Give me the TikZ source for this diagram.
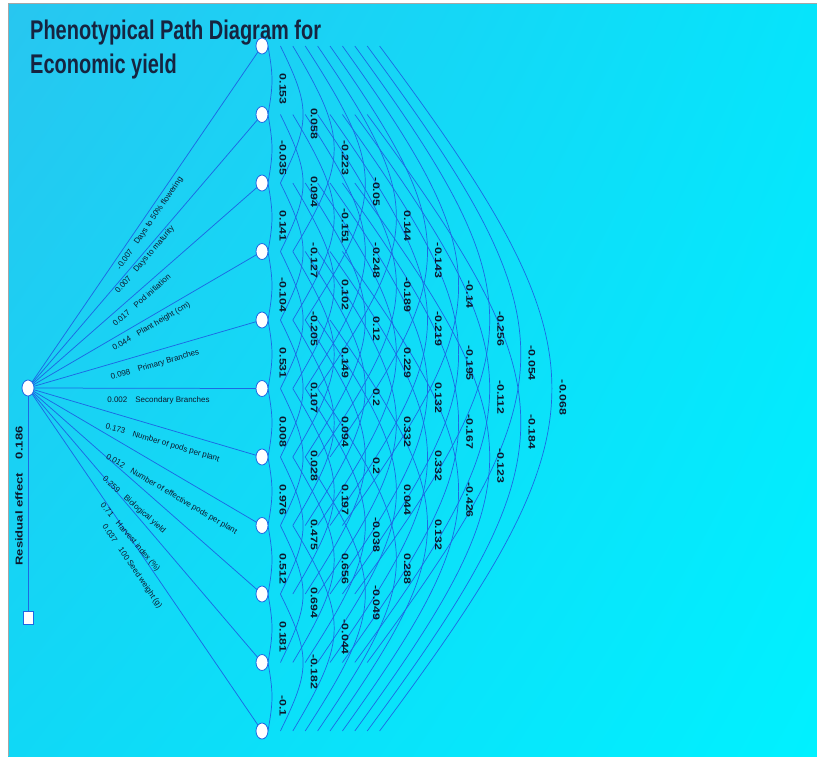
\documentclass[tikz,border=0pt]{standalone}
\usepackage{fontspec}
\setmainfont{Liberation Sans}
\newfontfamily\titlefont[FakeStretch=0.74]{Liberation Sans}
\newfontfamily\arclabfont[FakeStretch=1.3]{Liberation Sans}
\usetikzlibrary{shapes.geometric,calc,shadings}
\definecolor{linkblue}{RGB}{28,105,228}
\definecolor{inkdark}{RGB}{12,24,45}
\definecolor{titleink}{RGB}{22,36,64}
\definecolor{bgA}{RGB}{40,198,240}
\definecolor{bgB}{RGB}{6,228,251}
\definecolor{bgC}{RGB}{16,216,246}
\definecolor{bgD}{RGB}{0,241,255}
\pgfdeclarelayer{bglayer}
\pgfdeclarelayer{edgelayer}
\pgfsetlayers{bglayer,edgelayer,main}
\begin{document}
\begin{tikzpicture}[x=1pt,y=-1pt,
  varnode/.style={ellipse, draw=linkblue, line width=0.8pt, fill=white, minimum width=12pt, minimum height=16pt, inner sep=0pt},
  resnode/.style={rectangle, draw=linkblue, line width=0.8pt, fill=white, minimum width=10pt, minimum height=13pt, inner sep=0pt},
  link/.style={draw=linkblue, line width=0.75pt},
  corr/.style={draw=linkblue, line width=0.7pt},
  corrlab/.style={rotate=-90, font=\arclabfont\bfseries\fontsize{9.5}{10}\selectfont, text=inkdark, inner sep=0pt},
  pathlab/.style={font=\fontsize{8}{9}\selectfont, text=inkdark, inner sep=0pt},
  reslab/.style={rotate=90, font=\arclabfont\bfseries\fontsize{10}{11}\selectfont, text=inkdark, inner sep=0pt},
  titlestyle/.style={anchor=north west, align=left, font=\titlefont\bfseries\fontsize{27}{34}\selectfont, text=titleink, inner sep=0pt}
]
\useasboundingbox (0,0) rectangle (817,756);
\begin{pgfonlayer}{bglayer}
\fill[white] (0,0) rectangle (817,756);
\shade[upper left=bgA, upper right=bgB, lower left=bgC, lower right=bgD] (8,3) rectangle (817,756);
\draw[gray!70, line width=0.8pt] (8,756) -- (8,3) -- (817,3);
\end{pgfonlayer}

% title
\node[titlestyle] (title) at (30,20) {Phenotypical Path Diagram for\\Economic yield};

% variable nodes
\foreach \i in {1,...,11} {
  \node[varnode] (n\i) at (262,{46+68.5*(\i-1)}) {};
}
\node[varnode] (src) at (28,388) {};
\node[resnode] (res) at (28,618) {};

\begin{pgfonlayer}{edgelayer}
\draw[link] (src) -- (res);
\foreach \i in {1,...,11} {
  \draw[link] (src.center) -- (n\i.center);
}
\end{pgfonlayer}

\node[reslab] (resl) at (19,496) {Residual effect\hspace{14pt}0.186};

% direct path labels
\node[pathlab, rotate=55.6] (p1) at (150,223.5) {-0.007\hspace{8pt}Days to 50\% flowering};
\node[pathlab, rotate=49.45] (p2) at (145,260) {0.007\hspace{8pt}Days to maturity};
\node[pathlab, rotate=41.2] (p3) at (141.5,300) {0.017\hspace{8pt}Pod initiation};
\node[pathlab, rotate=30.3] (p4) at (151.5,326.5) {0.044\hspace{8pt}Plant height (cm)};
\node[pathlab, rotate=16.2] (p5) at (155,365) {0.098\hspace{8pt}Primary Branches};
\node[pathlab] (p6) at (158.5,400) {0.002\hspace{8pt}Secondary Branches};
\node[pathlab, rotate=-16.4] (p7) at (162.5,443) {0.173\hspace{8pt}Number of pods per plant};
\node[pathlab, rotate=-30.4] (p8) at (171.5,494.5) {0.012\hspace{8pt}Number of effective pods per plant};
\node[pathlab, rotate=-41.4] (p9) at (134,505) {0.259\hspace{8pt}Biological yield};
\node[pathlab, rotate=-49.55] (p10) at (130,537.5) {0.71\hspace{8pt}Harvest index (\%)};
\node[pathlab, rotate=-55.7] (p11) at (132,566.5) {0.037\hspace{8pt}100 Seed weight (g)};

% correlation arcs
\foreach \i/\j/\v in {
 1/2/0.153, 2/3/-0.035, 3/4/0.141, 4/5/-0.104, 5/6/0.531, 6/7/0.008, 7/8/0.976, 8/9/0.512, 9/10/0.181, 10/11/-0.1,
 1/3/0.058, 2/4/0.094, 3/5/-0.127, 4/6/-0.205, 5/7/0.107, 6/8/0.028, 7/9/0.475, 8/10/0.694, 9/11/-0.182,
 1/4/-0.223, 2/5/-0.151, 3/6/0.102, 4/7/0.149, 5/8/0.094, 6/9/0.197, 7/10/0.656, 8/11/-0.044,
 1/5/-0.05, 2/6/-0.248, 3/7/0.12, 4/8/0.2, 5/9/0.2, 6/10/-0.038, 7/11/-0.049,
 1/6/0.144, 2/7/-0.189, 3/8/0.229, 4/9/0.332, 5/10/0.044, 6/11/0.288,
 1/7/-0.143, 2/8/-0.219, 3/9/0.132, 4/10/0.332, 5/11/0.132,
 1/8/-0.14, 2/9/-0.195, 3/10/-0.167, 4/11/-0.426,
 1/9/-0.256, 2/10/-0.112, 3/11/-0.123,
 1/10/-0.054, 2/11/-0.184,
 1/11/-0.068} {
  \pgfmathsetmacro\k{\j-\i}
  \pgfmathsetmacro\d{6+12.4*(\k-1)}
  \pgfmathsetmacro\h{4+18.7*(\k-1)}
  \pgfmathsetmacro\a{4*\h/3}
  \pgfmathsetmacro\b{0.45*68.5*\k}
  \pgfmathsetmacro\lx{283+31.1*(\k-1)}
  \pgfmathsetmacro\ly{46+68.5*((\i+\j)/2-1)+9}
  \begin{pgfonlayer}{edgelayer}
  \draw[corr] ([xshift=\d pt]n\i.center) .. controls +(\a,\b) and +(\a,-\b) .. ([xshift=\d pt]n\j.center);
  \end{pgfonlayer}
  \node[corrlab] (c\i-\j) at (\lx,\ly) {\v};
}
\end{tikzpicture}
\end{document}
